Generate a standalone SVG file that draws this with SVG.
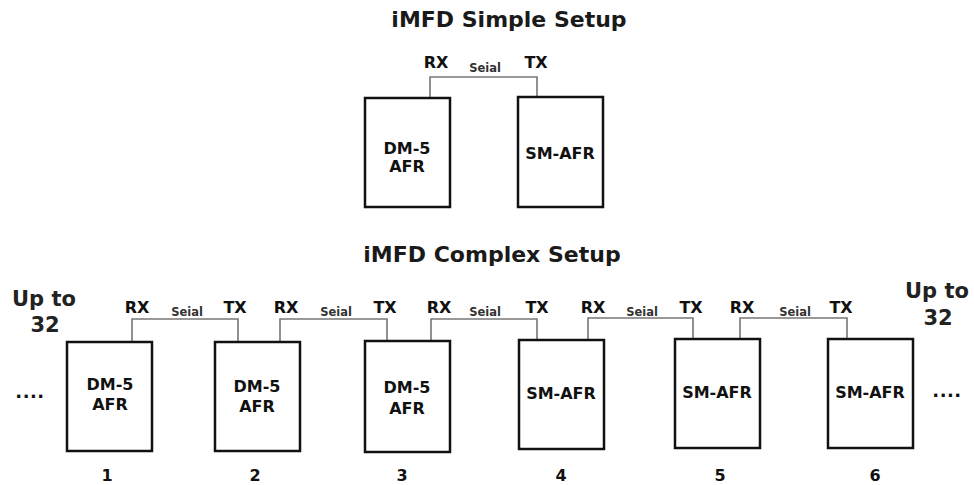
<svg xmlns="http://www.w3.org/2000/svg" width="974" height="485" viewBox="0 0 974 485">
<style>
text{font-family:"DejaVu Sans",Verdana,sans-serif;font-weight:bold;fill:#111;text-anchor:middle}
.title{font-size:22px;fill:#1a1a1a}
.lbl{font-size:16px}
.sm{font-size:11.5px;fill:#333}
.box{fill:#fff;stroke:#111;stroke-width:2.5}
.wire{fill:none;stroke:#777;stroke-width:1.6}
.big{font-size:21px;fill:#222}
.dots{font-size:18px;letter-spacing:0.5px}
</style>
<rect width="974" height="485" fill="#fff"/>
<text class="title" x="509" y="27">iMFD Simple Setup</text>
<text class="title" x="492" y="262">iMFD Complex Setup</text>

<g id="connectors">
<polyline class="wire" points="430,98 430,77 537,77 537,97"/>
<polyline class="wire" points="132,342 132,319 238,319 238,342"/>
<polyline class="wire" points="280,342 280,319 387,319 387,341"/>
<polyline class="wire" points="431,341 431,319 537,319 537,340"/>
<polyline class="wire" points="588,340 588,318 693,318 693,339"/>
<polyline class="wire" points="740,339 740,318 847,318 847,339"/>
</g>

<g id="port-labels">
<text class="lbl" x="436" y="68">RX</text>
<text class="sm" x="485" y="72">Seial</text>
<text class="lbl" x="536" y="68">TX</text>

<text class="lbl" x="137" y="313">RX</text>
<text class="sm" x="187" y="316">Seial</text>
<text class="lbl" x="235" y="313">TX</text>
<text class="lbl" x="286" y="313">RX</text>
<text class="sm" x="336" y="316">Seial</text>
<text class="lbl" x="385" y="313">TX</text>
<text class="lbl" x="439" y="313">RX</text>
<text class="sm" x="485" y="316">Seial</text>
<text class="lbl" x="537" y="313">TX</text>
<text class="lbl" x="593" y="313">RX</text>
<text class="sm" x="642" y="316">Seial</text>
<text class="lbl" x="691" y="313">TX</text>
<text class="lbl" x="742" y="313">RX</text>
<text class="sm" x="795" y="316">Seial</text>
<text class="lbl" x="841" y="313">TX</text>
</g>

<g id="simple-dm5">
<rect class="box" x="365" y="98" width="85" height="109"/>
<text class="lbl" x="407" y="154">DM-5</text>
<text class="lbl" x="407" y="172">AFR</text>
</g>
<g id="simple-sm">
<rect class="box" x="518" y="97" width="85" height="110"/>
<text class="lbl" x="560" y="159">SM-AFR</text>
</g>

<g id="node1">
<rect class="box" x="67" y="342" width="85" height="109"/>
<text class="lbl" x="110" y="390">DM-5</text>
<text class="lbl" x="110" y="410">AFR</text>
<text class="lbl" x="107" y="481">1</text>
</g>
<g id="node2">
<rect class="box" x="215" y="342" width="85" height="109"/>
<text class="lbl" x="257" y="392">DM-5</text>
<text class="lbl" x="257" y="412">AFR</text>
<text class="lbl" x="255" y="481">2</text>
</g>
<g id="node3">
<rect class="box" x="365" y="341" width="85" height="111"/>
<text class="lbl" x="407" y="393">DM-5</text>
<text class="lbl" x="407" y="414">AFR</text>
<text class="lbl" x="402" y="481">3</text>
</g>
<g id="node4">
<rect class="box" x="519" y="340" width="85" height="109"/>
<text class="lbl" x="561" y="399">SM-AFR</text>
<text class="lbl" x="561" y="481">4</text>
</g>
<g id="node5">
<rect class="box" x="675" y="339" width="85" height="109"/>
<text class="lbl" x="717" y="398">SM-AFR</text>
<text class="lbl" x="720" y="481">5</text>
</g>
<g id="node6">
<rect class="box" x="828" y="339" width="85" height="109"/>
<text class="lbl" x="870" y="398">SM-AFR</text>
<text class="lbl" x="875" y="481">6</text>
</g>

<g id="left-extra">
<text class="big" x="44" y="306">Up to</text>
<text class="big" x="45" y="332">32</text>
<text class="dots" x="30" y="398">....</text>
</g>
<g id="right-extra">
<text class="big" x="937" y="298">Up to</text>
<text class="big" x="938" y="325">32</text>
<text class="dots" x="947" y="397">....</text>
</g>
</svg>
